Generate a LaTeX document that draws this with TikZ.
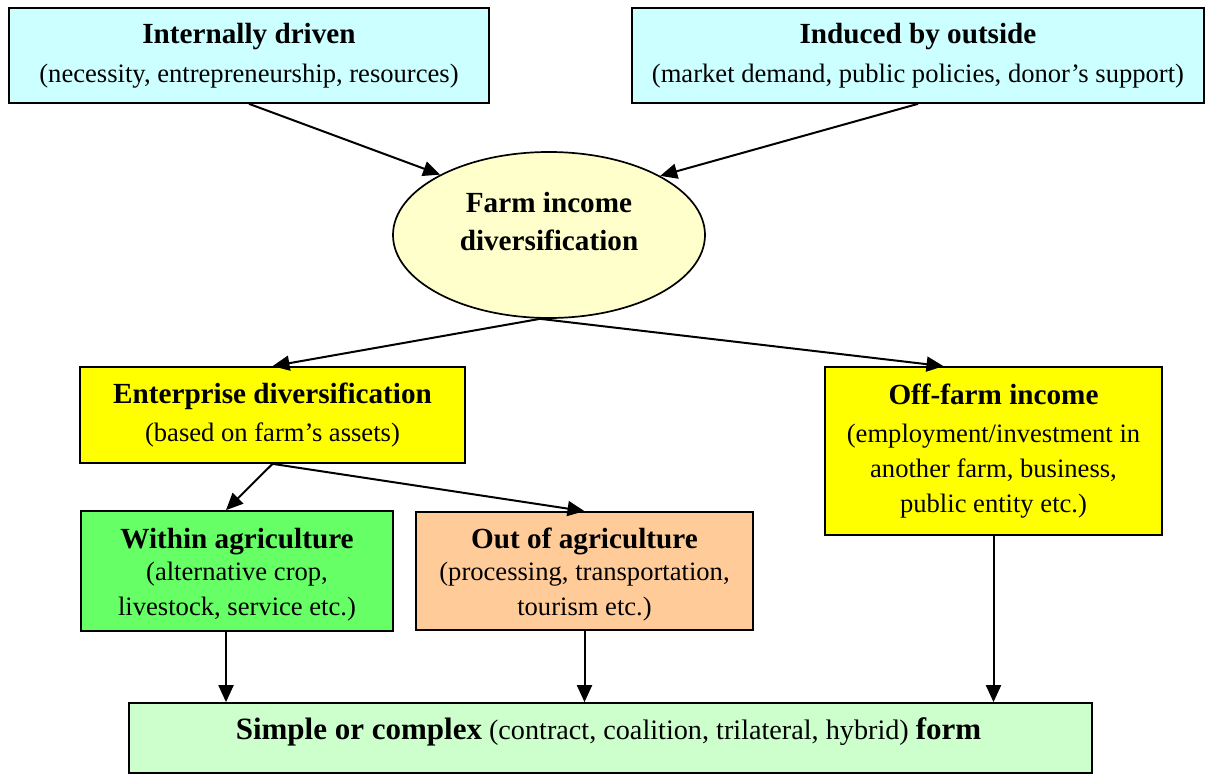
\documentclass[tikz,border=0pt]{standalone}
\usepackage{fontspec}
\setmainfont{Liberation Serif}
\usetikzlibrary{arrows.meta,shapes.geometric}
\definecolor{cyanbox}{HTML}{CCFFFF}
\definecolor{ellfill}{HTML}{FFFFCC}
\definecolor{yelbox}{HTML}{FFFF00}
\definecolor{grnbox}{HTML}{66FF66}
\definecolor{orgbox}{HTML}{FFCC99}
\definecolor{botbox}{HTML}{CCFFCC}
\newcommand\bt{\fontsize{29.2}{36}\selectfont\bfseries}
\newcommand\bbt{\fontsize{31}{37}\selectfont\bfseries}
\begin{document}
\begin{tikzpicture}[x=1pt,y=-1pt,
  box/.style={draw=black, line width=1.7pt, rectangle, inner sep=0pt, align=center,
    font=\fontsize{26.6}{35}\selectfont},
  txt/.style={inner sep=0pt, align=center, font=\fontsize{26.6}{35}\selectfont},
  arr/.style={line width=2pt, -{Triangle[length=17pt,width=15pt]}}]
\useasboundingbox (0,0) rectangle (1207,775);
\fill[white] (0,0) rectangle (1207,775);

\node[box, fill=cyanbox, minimum width=480, minimum height=95] (int) at (249,55.5)
  {{\bt Internally driven}\\[4pt](necessity, entrepreneurship, resources)};
\node[box, fill=cyanbox, minimum width=572, minimum height=95] (ind) at (918,55.5)
  {{\bt Induced by outside}\\[4pt](market demand, public policies, donor’s support)};

\node[draw=black, line width=1.7pt, ellipse, fill=ellfill, minimum width=312, minimum height=166, inner sep=0pt] (fid) at (549,235) {};
\node[align=center, inner sep=0pt, font=\bt] (fidt) at (549,222) {Farm income\\[2pt]diversification};

\node[box, fill=yelbox, minimum width=385, minimum height=96] (ent) at (272.5,415)
  {{\bt Enterprise diversification}\\[3pt](based on farm’s assets)};
\node[box, fill=yelbox, minimum width=337, minimum height=168] (off) at (993.5,451)
  {{\bt Off-farm income}\\[3pt](employment/investment in\\another farm, business,\\public entity etc.)};

\node[box, fill=grnbox, minimum width=312, minimum height=120] (wit) at (237,571) {};
\node[txt] (witt) at (237,575)
  {{\bt Within agriculture}\\[-3pt](alternative crop,\\livestock, service etc.)};
\node[box, fill=orgbox, minimum width=337, minimum height=118] (out) at (584.5,571) {};
\node[txt] (outt) at (584.5,575)
  {{\bt Out of agriculture}\\[-3pt](processing, transportation,\\tourism etc.)};

\node[box, fill=botbox, minimum width=963, minimum height=70] (bot) at (610.5,738) {};
\node[inner sep=0pt, font=\fontsize{28.2}{35}\selectfont] (bott) at (608.5,732)
  {{\bbt Simple or complex} (contract, coalition, trilateral, hybrid) {\bbt form}};

\draw[arr] (int.south) -- (fid.151);
\draw[arr] (ind.south) -- (fid.28);
\draw[arr] ([xshift=-9pt]fid.south) -- (ent.north);
\draw[arr] ([xshift=-9pt]fid.south) -- ([xshift=-50pt]off.north);
\draw[arr] (ent.south) -- ([xshift=-11pt]wit.north);
\draw[arr] (ent.south) -- (out.north);
\draw[arr] ([xshift=-11pt]wit.south) -- ([xshift=-11pt]wit.south |- bot.north);
\draw[arr] (out.south) -- (out.south |- bot.north);
\draw[arr] (off.south) -- (off.south |- bot.north);
\end{tikzpicture}
\end{document}
